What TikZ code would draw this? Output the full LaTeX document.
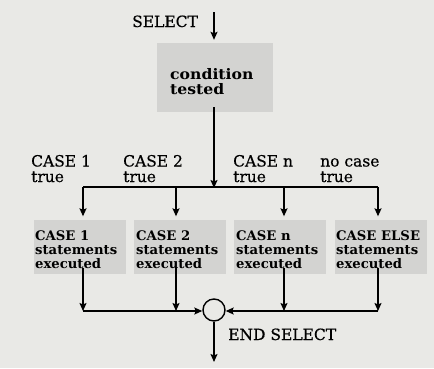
\documentclass[tikz,border=0pt]{standalone}
\usepackage{fontspec}
\setmainfont{DejaVu Serif}
\newfontfamily\wideserif[FakeStretch=1.08]{DejaVu Serif}
\newfontfamily\labserif[FakeBold=0.5]{DejaVu Serif}
\usetikzlibrary{arrows.meta}
\definecolor{bg}{HTML}{E9E9E6}
\definecolor{boxgray}{HTML}{D3D3D1}
\begin{document}
\begin{tikzpicture}[x=1pt,y=-1pt,
  flow/.style={line width=1.4pt,-{Stealth[length=8pt,width=7pt,inset=1.5pt]}},
  plain/.style={line width=1.4pt},
  stmt/.style={fill=boxgray,draw=none,minimum width=92pt,minimum height=54pt,inner sep=0pt},
  stmttext/.style={align=left,font=\fontsize{13.2}{13.8}\selectfont\bfseries,inner sep=0pt,anchor=base west},
  lbl/.style={align=left,font=\labserif\fontsize{15.5}{15.5}\selectfont,anchor=base west,inner sep=0pt},
]
\fill[bg] (0,0) rectangle (434,368);
\useasboundingbox (0,0) rectangle (434,368);
\coordinate (top) at (214,12);
\node[lbl] (sel) at (132,27) {SELECT};
\node[fill=boxgray,minimum width=116pt,minimum height=69pt,inner sep=0pt] (cond) at (215,77.5) {};
\node[anchor=base west,align=left,inner sep=0pt,font=\wideserif\fontsize{14.5}{15}\selectfont\bfseries] (ct) at (170,94) {condition\\tested};
\draw[flow] (top) -- ([yshift=3pt]cond.north -| top);
\coordinate (split) at (214,188);
\draw[flow] ([yshift=5pt]cond.south -| top) -- (split);
\node[lbl] (l1) at (31,182) {CASE 1\\true};
\node[lbl] (l2) at (123,182) {CASE 2\\true};
\node[lbl] (l3) at (233,182) {CASE n\\true};
\node[lbl] (l4) at (320,182) {no case\\true};
\node[stmt] (b1) at (79.5,246.5) {};
\node[stmt] (b2) at (180,246.5) {};
\node[stmt] (b3) at (280,246.5) {};
\node[stmt] (b4) at (380.5,246.5) {};
\node[stmttext] (t1) at (35,268.5) {CASE 1\\statements\\executed};
\node[stmttext] (t2) at (136,268.5) {CASE 2\\statements\\executed};
\node[stmttext] (t3) at (236,268.5) {CASE n\\statements\\executed};
\node[stmttext] (t4) at (336,268.5) {CASE ELSE\\statements\\executed};
\coordinate (h1) at (83,187);
\coordinate (h2) at (176,187);
\coordinate (h3) at (284,187);
\coordinate (h4) at (378,187);
\draw[plain] (h1) -- (h4);
\draw[flow] (h1) -- ([yshift=3pt]h1 |- b1.north);
\draw[flow] (h2) -- ([yshift=3pt]h2 |- b2.north);
\draw[flow] (h3) -- ([yshift=3pt]h3 |- b3.north);
\draw[flow] (h4) -- ([yshift=3pt]h4 |- b4.north);
\node[circle,draw,line width=1.4pt,minimum size=22pt,inner sep=0pt,fill=bg] (end) at (214,310) {};
\coordinate (j1) at (83,311);
\coordinate (j2) at (176,311);
\coordinate (j3) at (284,311);
\coordinate (j4) at (378,311);
\draw[flow] ([yshift=6pt]h1 |- b1.south) -- (j1);
\draw[flow] ([yshift=6pt]h2 |- b2.south) -- (j2);
\draw[flow] ([yshift=6pt]h3 |- b3.south) -- (j3);
\draw[flow] ([yshift=6pt]h4 |- b4.south) -- (j4);
\draw[flow] (j1) -- (end.west |- j1);
\draw[flow] (j4) -- (end.east |- j4);
\coordinate (out) at (214,362);
\draw[flow] (end) -- (out);
\node[lbl] (es) at (228,340) {END SELECT};
\end{tikzpicture}
\end{document}
